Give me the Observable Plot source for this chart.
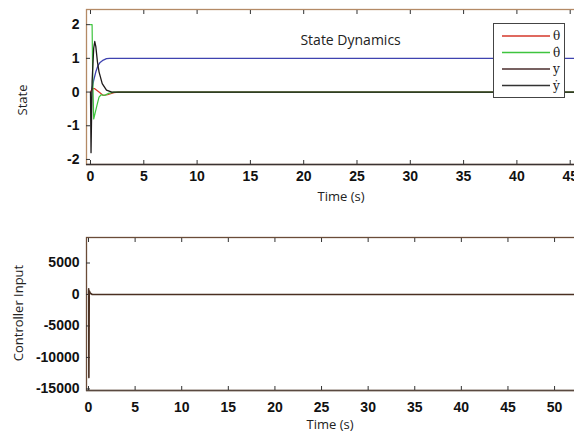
<!DOCTYPE html>
<html>
<head>
<meta charset="utf-8">
<script src="https://cdn.jsdelivr.net/npm/d3@7"></script>
<script src="https://cdn.jsdelivr.net/npm/@observablehq/plot@0.6"></script>
<style>
  html, body { margin: 0; padding: 0; background: #fff; overflow: hidden; width: 574px; height: 437px; }
  #wrap { position: relative; width: 574px; height: 437px; overflow: hidden; }
  #wrap svg.plot { max-width: none !important; }
  .abs { position: absolute; }
  .lbl { font-family: "Open Sans", sans-serif; font-size: 13px; color: #222; white-space: nowrap; line-height: 1; }
  .rot { transform: translate(-50%, -50%) rotate(-90deg); }
  .ctr { transform: translate(-50%, -50%); }
  #legend { position: absolute; left: 493px; top: 23px; width: 72px; height: 75px; border: 1.3px solid #444; background: #fff; box-sizing: border-box; }
</style>
</head>
<body>
<div id="wrap"></div>
<script>
// ---- Data: state dynamics (top panel) ----
const thetaTime = [0, 0.2, 0.4, 0.8, 1.2, 1.6, 2.2, 2.6, 50];
const thetaVal  = [0, 0.1, 0.1, 0.0, -0.1, -0.08, -0.02, 0, 0];

const thetaDotTime = [0, 0.15, 0.2, 0.3, 0.45, 0.6, 0.8, 1.0, 1.3, 1.7, 2.2, 50];
const thetaDotVal  = [2, 2, 0.6, -0.8, -0.6, -0.4, -0.15, -0.08, -0.1, -0.04, 0, 0];

const yTime = [0, 0.1, 0.2, 0.3, 0.5, 0.7, 0.9, 1.2, 1.5, 1.8, 50];
const yVal  = [0, 0.05, 0.2, 0.35, 0.6, 0.78, 0.88, 0.95, 0.99, 1.0, 1.0];

const yDotTime = [0, 0.05, 0.15, 0.3, 0.4, 0.5, 0.65, 0.8, 1.1, 1.5, 2.0, 50];
const yDotVal  = [0, -1.8, 0.3, 1.3, 1.5, 1.35, 0.9, 0.6, 0.25, 0.06, 0, 0];

// ---- Data: controller input (bottom panel) ----
const uTime = [0, 0.02, 0.04, 0.08, 0.2, 0.4, 1, 56];
const uVal  = [0, 900, -13200, 600, 200, 0, 0, 0];

// ---- Ticks ----
const stateTicks = [-2, -1, 0, 1, 2];
const timeTicksTop = [0, 5, 10, 15, 20, 25, 30, 35, 40, 45];
const uTicks = [-15000, -10000, -5000, 0, 5000];
const timeTicksBottom = [0, 5, 10, 15, 20, 25, 30, 35, 40, 45, 50];

const title = "State Dynamics";
const legendLabels = ["θ", "θ\u0307", "y", "y\u0307"];
const legendColors = ["#d4372a", "#3ec43e", "#4a2c2c", "#333333"];
const blue = "#3f43b0";

const zip = (ts, vs) => ts.map((t, i) => ({t, v: vs[i]}));

const tickFont = {fontFamily: "'Liberation Sans', Arial, sans-serif", fontSize: "14px", fontWeight: "bold", fill: "#111"};
const fmt = d => String(d);

const wrap = document.getElementById("wrap");

// Top panel
const topPlot = Plot.plot({
  width: 640, height: 200,
  marginLeft: 86, marginTop: 9, marginBottom: 36, marginRight: 17,
  style: {background: "transparent", overflow: "visible", maxWidth: "none"},
  x: {domain: [-0.375, 50], ticks: timeTicksTop},
  y: {domain: [-2.15, 2.45], ticks: stateTicks},
  marks: [
    Plot.frame({stroke: "#b48a66", strokeWidth: 1.3}),
    Plot.ruleY([-2.15], {stroke: "#3a3232", strokeWidth: 1.5}),
    Plot.axisX({ticks: timeTicksTop, tickSize: -4, tickPadding: 11, label: null, stroke: "#333", tickFormat: fmt, ...tickFont}),
    Plot.axisX({anchor: "top", ticks: timeTicksTop, tickSize: -4, tickFormat: () => "", label: null, stroke: "#333"}),
    Plot.axisY({ticks: stateTicks, tickSize: -4, tickPadding: 11, label: null, stroke: "#333", tickFormat: fmt, ...tickFont}),
    Plot.line(zip(yTime, yVal), {x: "t", y: "v", stroke: blue, strokeWidth: 1.3}),
    Plot.line(zip(thetaTime, thetaVal), {x: "t", y: "v", stroke: legendColors[0], strokeWidth: 1.2}),
    Plot.line(zip(thetaDotTime, thetaDotVal), {x: "t", y: "v", stroke: legendColors[1], strokeWidth: 1.2}),
    Plot.line(zip(yDotTime, yDotVal), {x: "t", y: "v", stroke: "#1e1a1a", strokeWidth: 1.3}),
    Plot.text([title], {x: 24.4, y: 1.53, text: d => d, fontFamily: "'Open Sans', sans-serif", fontSize: 14, fill: "#222"})
  ]
});
topPlot.style.position = "absolute"; topPlot.style.left = "0px"; topPlot.style.top = "0px";
topPlot.style.maxWidth = "none";
wrap.appendChild(topPlot);

// Bottom panel
const bottomPlot = Plot.plot({
  width: 630, height: 202,
  marginLeft: 86, marginTop: 9, marginBottom: 40, marginRight: 20,
  style: {background: "transparent", overflow: "visible", maxWidth: "none"},
  x: {domain: [-0.215, 56], ticks: timeTicksBottom},
  y: {domain: [-15250, 9050], ticks: uTicks},
  marks: [
    Plot.frame({stroke: "#6a4c38", strokeWidth: 1.3}),
    Plot.ruleY([-15250], {stroke: "#5a4a40", strokeWidth: 1.5}),
    Plot.axisX({ticks: timeTicksBottom, tickSize: -4, tickPadding: 16, label: null, stroke: "#333", tickFormat: fmt, ...tickFont}),
    Plot.axisX({anchor: "top", ticks: timeTicksBottom, tickSize: -4, tickFormat: () => "", label: null, stroke: "#333"}),
    Plot.axisY({ticks: uTicks, tickSize: -4, tickPadding: 11, label: null, stroke: "#333", tickFormat: fmt, ...tickFont}),
    Plot.line(zip(uTime, uVal), {x: "t", y: "v", stroke: "#4a3022", strokeWidth: 1.6})
  ]
});
bottomPlot.style.position = "absolute"; bottomPlot.style.left = "0px"; bottomPlot.style.top = "228px";
bottomPlot.style.maxWidth = "none";
wrap.appendChild(bottomPlot);

// Axis labels
function addLabel(text, x, y, cls) {
  const d = document.createElement("div");
  d.className = "abs lbl " + cls;
  d.style.left = x + "px"; d.style.top = y + "px";
  d.textContent = text;
  wrap.appendChild(d);
}
addLabel("State", 22, 100, "rot");
addLabel("Time (s)", 341, 196, "ctr");
addLabel("Controller Input", 18, 313, "rot");
addLabel("Time (s)", 330, 424, "ctr");

// Legend
const leg = document.createElement("div");
leg.id = "legend";
const ns = "http://www.w3.org/2000/svg";
const svg = document.createElementNS(ns, "svg");
svg.setAttribute("width", 70); svg.setAttribute("height", 73);
legendLabels.forEach((lab, i) => {
  const yy = 12 + i * 16.5;
  const ln = document.createElementNS(ns, "line");
  ln.setAttribute("x1", 8); ln.setAttribute("x2", 56);
  ln.setAttribute("y1", yy); ln.setAttribute("y2", yy);
  ln.setAttribute("stroke", legendColors[i]); ln.setAttribute("stroke-width", 1.5);
  svg.appendChild(ln);
  const tx = document.createElementNS(ns, "text");
  tx.setAttribute("x", 59); tx.setAttribute("y", yy + 4);
  tx.setAttribute("font-family", "'DejaVu Serif', serif");
  tx.setAttribute("font-size", 12); tx.setAttribute("fill", "#222");
  tx.textContent = lab;
  svg.appendChild(tx);
});
leg.appendChild(svg);
wrap.appendChild(leg);
</script>
</body>
</html>
